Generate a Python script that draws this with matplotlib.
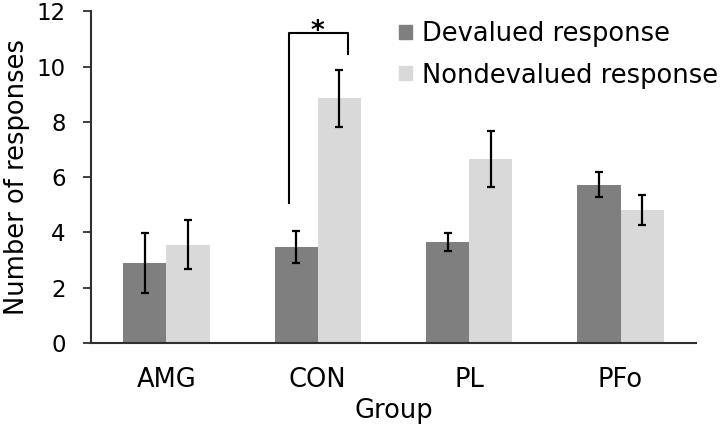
import matplotlib
matplotlib.use('Agg')
import matplotlib.pyplot as plt
from matplotlib.patches import Patch
import numpy as np

# data
groups = ['AMG', 'CON', 'PL', 'PFo']
devalued = [2.90, 3.48, 3.66, 5.72]
devalued_err = [1.08, 0.57, 0.33, 0.45]
nondevalued = [3.56, 8.86, 6.66, 4.81]
nondevalued_err = [0.89, 1.03, 1.01, 0.54]

# style
dark = '#7f7f7f'
light = '#d9d9d9'
axis_color = '#303030'
font_size = 18.5
ytick_size = 16.5
bar_w = 0.285

fig = plt.figure(figsize=(7.2, 4.3), dpi=100)
ax = fig.add_axes([0.126, 0.202, 0.841, 0.772])

x = np.arange(len(groups))
err_kw = dict(ecolor='black', elinewidth=1.6, capsize=3, capthick=1.6)
ax.bar(x - bar_w / 2, devalued, bar_w, yerr=devalued_err, color=dark,
       error_kw=err_kw, zorder=2)
ax.bar(x + bar_w / 2, nondevalued, bar_w, yerr=nondevalued_err, color=light,
       error_kw=err_kw, zorder=2)

# significance bracket on CON
ax.plot([1 - 0.19, 1 - 0.19, 1 + 0.2, 1 + 0.2], [5.06, 11.2, 11.2, 10.44],
        color='black', lw=1.5, clip_on=False)
ax.text(1.0, 11.0, '*', ha='center', va='baseline', fontsize=19,
        fontweight='bold')

ax.set_xlim(-0.5, 3.5)
ax.set_ylim(0, 12)
ax.set_yticks(range(0, 13, 2))
ax.set_xticks(x)
ax.set_xticklabels(groups)
ax.tick_params(axis='x', length=0, pad=17, labelsize=font_size)
ax.tick_params(axis='y', length=6, width=1.3, pad=12, labelsize=ytick_size,
               color=axis_color)
for s in ['top', 'right']:
    ax.spines[s].set_visible(False)
for s in ['left', 'bottom']:
    ax.spines[s].set_color(axis_color)
    ax.spines[s].set_linewidth(1.5)

ax.set_xlabel('Group', fontsize=font_size, labelpad=4)
ax.set_ylabel('Number of responses', fontsize=font_size, labelpad=5)

handles = [Patch(color=dark), Patch(color=light)]
ax.legend(handles, ['Devalued response', 'Nondevalued response'],
          fontsize=font_size, frameon=False, loc='upper left',
          bbox_to_anchor=(0.509, 0.970), handlelength=0.5, handleheight=0.47,
          handletextpad=0.4, labelspacing=0.6, borderaxespad=0, borderpad=0)

plt.savefig('out.png', dpi=100)
